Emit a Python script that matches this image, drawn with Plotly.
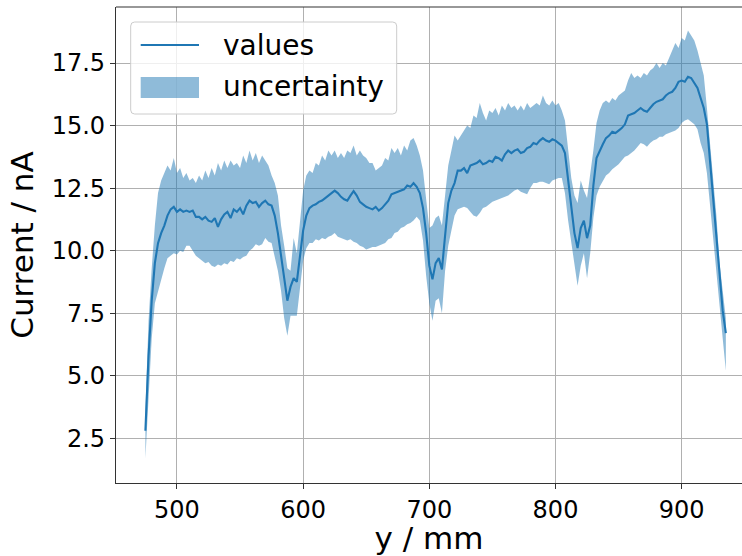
import plotly.graph_objects as go

x_start = 475.0
x_step = 2.5

values = [
    2.8, 5.8, 8.0, 9.5, 10.3, 10.7, 11.0, 11.4, 11.65, 11.75,
    11.55, 11.65, 11.55, 11.6, 11.55, 11.6, 11.35, 11.35, 11.25, 11.35,
    11.2, 11.15, 11.3, 10.95, 11.25, 11.45, 11.55, 11.3, 11.65, 11.55,
    11.7, 11.45, 11.8, 12.0, 11.9, 11.95, 11.75, 11.9, 12.0, 11.85,
    11.8, 11.4, 10.7, 9.8, 8.7, 8.0, 8.55, 8.9, 8.75, 9.7,
    10.8, 11.4, 11.7, 11.8, 11.85, 11.95, 12.0, 12.1, 12.2, 12.3,
    12.4, 12.3, 12.15, 12.05, 12.0, 12.2, 12.38, 12.2, 11.95, 11.85,
    11.75, 11.7, 11.65, 11.75, 11.6, 11.7, 11.85, 12.0, 12.25, 12.3,
    12.35, 12.4, 12.45, 12.6, 12.55, 12.7, 12.55, 12.3, 11.7, 10.7,
    9.4, 8.85, 9.5, 9.7, 9.25, 10.6, 11.9, 12.4, 12.7, 13.2,
    13.2, 13.3, 13.1, 13.4, 13.45, 13.5, 13.6, 13.45, 13.5, 13.6,
    13.55, 13.75, 13.7, 13.6, 13.85, 14.0, 13.9, 14.0, 14.05, 13.9,
    13.95, 14.1, 14.15, 14.3, 14.25, 14.4, 14.5, 14.4, 14.35, 14.45,
    14.4, 14.3, 14.2, 13.9, 12.9, 11.8, 10.7, 10.1, 10.9, 11.2,
    10.5, 11.0, 12.6, 13.7, 14.0, 14.25, 14.5, 14.6, 14.75, 14.7,
    14.8, 14.9, 15.05, 15.4, 15.45, 15.5, 15.6, 15.7, 15.6, 15.55,
    15.7, 15.85, 15.95, 16.0, 16.05, 16.2, 16.3, 16.35, 16.5, 16.75,
    16.8, 16.75, 16.95, 16.9, 16.7, 16.5, 16.1, 15.7, 15.05, 13.6,
    12.2, 10.7, 9.1, 7.6, 6.7,
]

upper = [
    3.6, 7.2, 9.3, 11.0, 12.3, 12.8, 13.1, 13.4, 13.2, 13.7,
    13.1, 13.3, 12.9, 13.1, 12.8, 12.9, 12.7, 13.0, 12.8, 13.2,
    12.9, 13.3, 13.0, 13.5, 13.2, 13.6, 13.3, 13.6, 13.4, 13.5,
    13.3, 13.8, 13.5, 14.0, 13.6, 13.9, 13.5, 13.8, 13.6, 13.4,
    13.0, 12.7, 12.2, 11.0, 10.2, 9.3, 9.2, 10.5, 9.9, 11.3,
    12.4, 13.0, 13.2, 13.1, 13.5, 13.4, 13.8, 13.6, 14.0, 13.8,
    14.0, 13.7, 13.9, 13.7, 14.0, 13.9, 14.2, 13.8, 14.0, 13.8,
    13.7, 13.5, 13.5, 13.2, 13.3, 13.4, 13.7, 13.6, 14.1, 13.9,
    14.1, 13.8, 14.2, 14.0, 14.4, 14.5, 14.2, 13.8, 13.2, 12.1,
    10.9, 11.0, 11.3, 11.4, 11.0, 12.2, 13.4, 14.0, 14.6, 14.4,
    14.6, 14.8, 15.0, 14.9, 15.4, 15.3, 15.9, 15.5, 15.2, 15.6,
    15.5, 15.7, 15.4, 15.8, 15.6, 15.9, 15.7, 15.8, 15.6, 15.8,
    15.6, 15.9, 15.7, 15.8, 15.9, 15.8, 16.2, 15.9, 15.8, 16.0,
    15.8, 15.9, 15.6, 15.2, 13.9, 12.9, 12.2, 11.9, 12.8, 12.4,
    12.1, 13.0, 14.0, 15.1, 15.6, 15.9, 16.0, 15.9, 16.1, 16.0,
    16.2, 16.3, 16.4, 16.8, 17.1, 16.9, 17.0, 16.9, 17.1, 17.0,
    17.2, 17.3, 17.5, 17.3, 17.5, 17.4, 17.7, 18.0, 18.3, 18.1,
    18.5, 18.4, 18.8, 18.6, 18.4, 18.0, 17.5, 17.0, 15.7, 14.2,
    12.8, 11.4, 9.5, 8.3, 7.3,
]

lower = [
    1.7, 4.2, 6.5, 7.9, 8.4, 8.9, 9.3, 9.7, 9.8, 9.9,
    9.85, 10.0, 9.95, 10.2, 10.2, 10.0, 9.8, 9.7, 9.6, 9.5,
    9.55, 9.4, 9.35, 9.45, 9.4, 9.5, 9.45, 9.6, 9.55, 9.7,
    9.65, 9.75, 9.8, 10.0, 10.1, 10.25, 10.2, 10.25, 10.5, 10.35,
    10.3, 9.8, 9.2, 8.4, 7.3, 6.6, 7.4, 7.4, 7.4, 8.5,
    9.6, 10.1, 10.3, 10.3, 10.45, 10.4, 10.5, 10.45, 10.55, 10.6,
    10.7, 10.55, 10.5, 10.45, 10.4, 10.45, 10.35, 10.3, 10.2, 10.15,
    10.05, 10.1, 10.15, 10.15, 10.2, 10.25, 10.3, 10.45, 10.5, 10.7,
    10.75, 10.9, 10.95, 11.05, 11.1, 11.2, 11.35, 11.2, 10.4, 9.0,
    7.9, 7.2, 8.0, 8.1, 7.5, 9.2, 10.2, 10.8, 11.4, 11.65,
    11.7, 11.75, 11.7, 11.55, 11.4, 11.35, 11.5, 11.7, 11.75, 11.85,
    11.95, 12.0, 12.05, 12.1, 12.15, 12.2, 12.3, 12.4, 12.45, 12.35,
    12.3, 12.25, 12.5, 12.7, 12.7, 12.75, 12.75, 12.7, 12.65, 12.8,
    12.85, 12.9, 12.9, 12.3, 11.2, 10.3, 9.4, 8.6, 9.4, 9.9,
    8.9, 9.9, 11.3, 12.2, 12.55, 12.8, 13.0, 13.1, 13.25, 13.35,
    13.45, 13.6, 13.75, 13.8, 13.9, 14.0, 14.15, 14.3, 14.25, 14.15,
    14.3, 14.4, 14.45, 14.55, 14.55, 14.65, 14.7, 14.75, 14.8, 14.9,
    15.1, 15.2, 15.25, 15.15, 15.05, 14.85, 14.3, 13.9, 13.1, 11.8,
    10.4, 9.3, 7.9, 6.5, 5.2,
]

y_mm = [x_start + i * x_step for i in range(len(values))]

x_ticks = [500, 600, 700, 800, 900]
y_ticks = [2.5, 5.0, 7.5, 10.0, 12.5, 15.0, 17.5]
y_tick_labels = ["2.5", "5.0", "7.5", "10.0", "12.5", "15.0", "17.5"]
legend_labels = ["values", "uncertainty"]

blue = "#1f77b4"
band_fill = "rgba(31,119,180,0.5)"
spine = "#333333"
font_family = "DejaVu Sans, Verdana, sans-serif"

W, H = 742, 556
ML, MR, MT, MB = 116, 0, 7, 73
PW, PH = W - ML - MR, H - MT - MB


def px_x(px):
    return (px - ML) / PW


def px_y(py):
    return (H - MB - py) / PH


fig = go.Figure()
fig.add_trace(go.Scatter(
    x=y_mm, y=lower, mode="lines", line=dict(width=0, color=blue),
    showlegend=False, hoverinfo="skip",
))
fig.add_trace(go.Scatter(
    x=y_mm, y=upper, mode="lines", line=dict(width=0, color=blue),
    fill="tonexty", fillcolor=band_fill,
    name=legend_labels[1], showlegend=False,
))
fig.add_trace(go.Scatter(
    x=y_mm, y=values, mode="lines", line=dict(width=2.1, color=blue),
    name=legend_labels[0], showlegend=False,
))

# top spine (no right spine: the reference is cropped at the right)
fig.add_shape(type="line", xref="paper", yref="paper", x0=0, x1=1, y0=1, y1=1,
              line=dict(color=spine, width=1.1), layer="above")

# legend box (drawn manually to match a matplotlib-style legend)
bx0, bx1, by0, by1 = 130.7, 396.7, 22.0, 114.0
r = 4.0
path = (
    f"M {px_x(bx0 + r)},{px_y(by0)} L {px_x(bx1 - r)},{px_y(by0)} "
    f"Q {px_x(bx1)},{px_y(by0)} {px_x(bx1)},{px_y(by0 + r)} "
    f"L {px_x(bx1)},{px_y(by1 - r)} "
    f"Q {px_x(bx1)},{px_y(by1)} {px_x(bx1 - r)},{px_y(by1)} "
    f"L {px_x(bx0 + r)},{px_y(by1)} "
    f"Q {px_x(bx0)},{px_y(by1)} {px_x(bx0)},{px_y(by1 - r)} "
    f"L {px_x(bx0)},{px_y(by0 + r)} "
    f"Q {px_x(bx0)},{px_y(by0)} {px_x(bx0 + r)},{px_y(by0)} Z"
)
fig.add_shape(type="path", path=path, xref="paper", yref="paper",
              fillcolor="rgba(255,255,255,0.8)", line=dict(color="#cccccc", width=1),
              layer="above")
fig.add_shape(type="line", xref="paper", yref="paper",
              x0=px_x(140.7), x1=px_x(199.0), y0=px_y(45.0), y1=px_y(45.0),
              line=dict(color=blue, width=2.1), layer="above")
fig.add_shape(type="rect", xref="paper", yref="paper",
              x0=px_x(140.7), x1=px_x(199.0), y0=px_y(98.0), y1=px_y(77.0),
              fillcolor=band_fill, line=dict(width=0), layer="above")
for label, cy in zip(legend_labels, [45.0, 87.0]):
    fig.add_annotation(text=label, xref="paper", yref="paper",
                       x=px_x(221.0), y=px_y(cy), xanchor="left", yanchor="middle",
                       showarrow=False, font=dict(size=28, family=font_family, color="black"))

fig.update_layout(
    width=W, height=H,
    margin=dict(l=ML, r=MR, t=MT, b=MB, pad=0),
    paper_bgcolor="white", plot_bgcolor="white",
    font=dict(family=font_family, color="black", size=24),
    showlegend=False,
)
fig.update_xaxes(
    range=[451.7, 947.8], tickvals=x_ticks,
    showgrid=True, gridcolor="#b0b0b0", gridwidth=1,
    showline=True, linecolor=spine, linewidth=1.1, mirror=False,
    ticks="outside", ticklen=5, tickwidth=1.1, tickcolor=spine,
    tickfont=dict(size=24), zeroline=False,
    title=dict(text="y / mm", font=dict(size=31), standoff=3),
)
fig.update_yaxes(
    range=[0.71, 19.74], tickvals=y_ticks, ticktext=y_tick_labels,
    showgrid=True, gridcolor="#b0b0b0", gridwidth=1,
    showline=True, linecolor=spine, linewidth=1.1, mirror=False,
    ticks="outside", ticklen=5, tickwidth=1.1, tickcolor=spine,
    tickfont=dict(size=24), zeroline=False,
    title=dict(text="Current / nA", font=dict(size=31), standoff=8),
)

fig.write_html("out.html")
